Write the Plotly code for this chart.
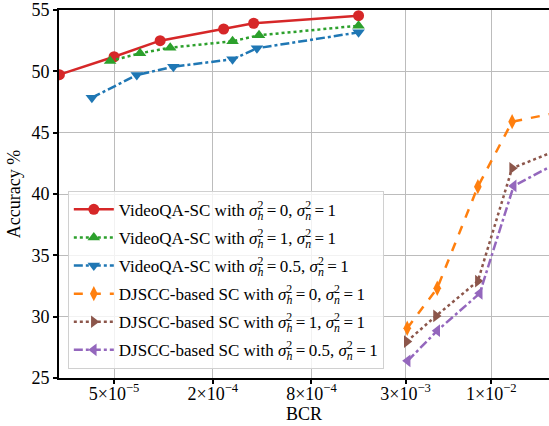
import plotly.graph_objects as go

# ---- data ----
vqa_x_h0 = [2.32e-5, 5.0e-5, 9.55e-5, 2.33e-4, 3.55e-4, 1.55e-3]
vqa_y_h0 = [49.73, 51.19, 52.5, 53.45, 53.92, 54.54]

vqa_x_h1 = [4.73e-5, 7.2e-5, 1.1e-4, 2.64e-4, 3.83e-4, 1.55e-3]
vqa_y_h1 = [50.85, 51.47, 51.93, 52.45, 52.94, 53.72]

vqa_x_h05 = [3.66e-5, 6.88e-5, 1.15e-4, 2.64e-4, 3.72e-4, 1.55e-3]
vqa_y_h05 = [47.85, 49.7, 50.38, 50.98, 51.88, 53.18]

dj_x_h0 = [3.07e-3, 4.68e-3, 8.28e-3, 1.34e-2, 2.5e-2]
dj_y_h0 = [29.06, 32.32, 40.6, 45.9, 46.62]

dj_x_h1 = [3.05e-3, 4.6e-3, 8.28e-3, 1.34e-2, 2.4e-2]
dj_y_h1 = [27.97, 30.06, 32.9, 42.1, 43.45]

dj_x_h05 = [3.09e-3, 4.68e-3, 8.5e-3, 1.37e-2, 2.5e-2]
dj_y_h05 = [26.4, 28.86, 31.9, 40.66, 42.5]

x_tickvals = [5e-5, 2e-4, 8e-4, 3e-3, 1e-2]
x_ticktext = ["5×10<sup>−5</sup>", "2×10<sup>−4</sup>", "8×10<sup>−4</sup>",
              "3×10<sup>−3</sup>", "1×10<sup>−2</sup>"]
y_tickvals = [25, 30, 35, 40, 45, 50, 55]


def S(v):
    return (f"<i>σ</i><sub><span style='letter-spacing:-6px'><i>{v}</i></span></sub>"
            f"<sup>2</sup>")


def label(prefix, h):
    return f"{prefix} with {S('h')}\u2009=\u2009{h}, {S('n')}\u2009=\u20091"


series = [
    (vqa_x_h0, vqa_y_h0, label("VideoQA-SC", "0"), "#d62728", "solid", "circle", 11),
    (vqa_x_h1, vqa_y_h1, label("VideoQA-SC", "1"), "#2ca02c", "dot", "triangle-up", 11),
    (vqa_x_h05, vqa_y_h05, label("VideoQA-SC", "0.5"), "#1f77b4", "dashdot", "triangle-down", 11),
    (dj_x_h0, dj_y_h0, label("DJSCC-based SC", "0"), "#ff7f0e", "dash", "diamond-tall", 11),
    (dj_x_h1, dj_y_h1, label("DJSCC-based SC", "1"), "#8c564b", "dot", "triangle-right", 11),
    (dj_x_h05, dj_y_h05, label("DJSCC-based SC", "0.5"), "#9467bd", "dashdot", "triangle-left", 11),
]

fig = go.Figure()
for i, (xs, ys, name, color, dash, sym, size) in enumerate(series):
    fig.add_trace(go.Scatter(
        x=xs, y=ys, name=name, mode="lines+markers", legendgroup=f"g{i}",
        line=dict(color=color, width=2.5, dash=dash),
        marker=dict(symbol=sym, size=size, color=color),
    ))

font_family = "Liberation Serif, Times New Roman, serif"
fig.update_layout(
    width=549, height=426,
    margin=dict(l=59, r=0, t=10, b=48),
    paper_bgcolor="white", plot_bgcolor="white",
    font=dict(family=font_family, size=17, color="black"),
    showlegend=True,
    legend=dict(
        x=0.018, y=0.025, xanchor="left", yanchor="bottom",
        bgcolor="rgba(255,255,255,0.8)", bordercolor="#d0d0d0", borderwidth=1,
        font=dict(family=font_family, size=17, color="black"),
        itemwidth=40, tracegroupgap=3,
    ),
    xaxis=dict(
        type="log", range=[-4.637, -1.648], automargin=False,
        tickvals=x_tickvals, ticktext=x_ticktext,
        tickfont=dict(size=18), ticklabelstandoff=-6,
        showgrid=True, gridcolor="#bcbcbc", gridwidth=1,
        showline=True, linecolor="black", linewidth=2, mirror=True,
        ticks="outside", ticklen=4, tickwidth=1.5, tickcolor="black",
        title=dict(text="BCR", font=dict(size=18), standoff=2),
        zeroline=False,
    ),
    yaxis=dict(
        range=[25, 55], tickvals=y_tickvals, automargin=False,
        tickfont=dict(size=18), ticklabeloverflow="allow",
        showgrid=True, gridcolor="#bcbcbc", gridwidth=1,
        showline=True, linecolor="black", linewidth=2, mirror=False,
        ticks="outside", ticklen=4, tickwidth=1.5, tickcolor="black",
        title=dict(text="Accuracy %", font=dict(size=18), standoff=6),
        zeroline=False,
    ),
)

fig.write_html("out.html", config={"displayModeBar": False},
               post_script="document.body.style.margin='0';")
